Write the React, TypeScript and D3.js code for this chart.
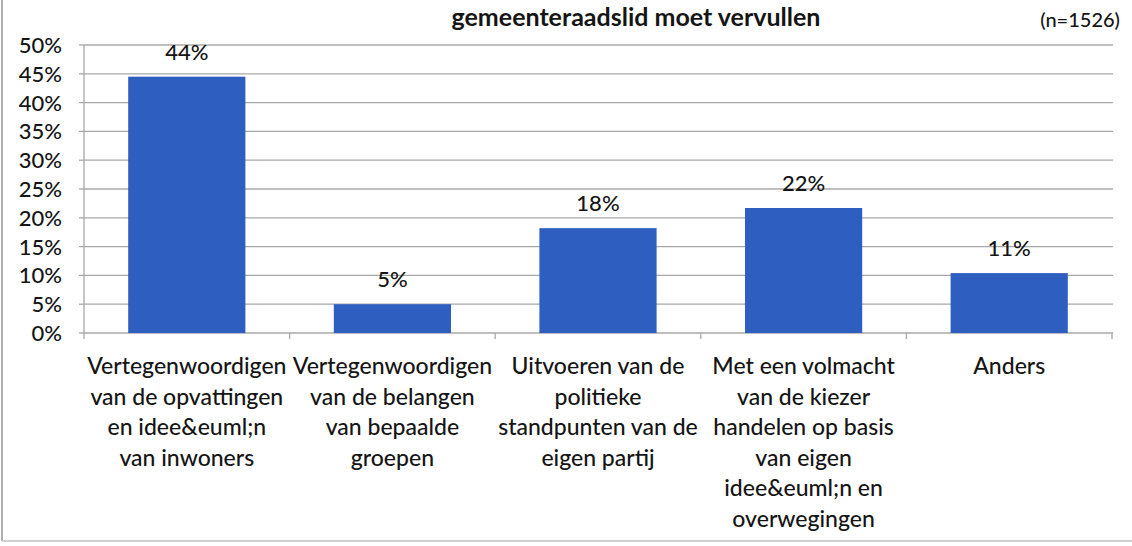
import React from "react";
import * as d3 from "d3";

const categories = [
  ["Vertegenwoordigen", "van de opvattingen", "en idee&euml;n", "van inwoners"],
  ["Vertegenwoordigen", "van de belangen", "van bepaalde", "groepen"],
  ["Uitvoeren van de", "politieke", "standpunten van de", "eigen partij"],
  ["Met een volmacht", "van de kiezer", "handelen op basis", "van eigen", "idee&euml;n en", "overwegingen"],
  ["Anders"],
];
const values = [44.5, 5.0, 18.2, 21.7, 10.4];
const valueLabels = ["44%", "5%", "18%", "22%", "11%"];
const yTicks = [0, 5, 10, 15, 20, 25, 30, 35, 40, 45, 50];

const title = "gemeenteraadslid moet vervullen";
const note = "(n=1526)";

const width = 1132;
const height = 546;
const font = "Lato, 'Open Sans', sans-serif";
const barColor = "#2e5ebf";
const gridColor = "#a8a8a8";
const textColor = "#151515";

export default function App() {
  const left = 84;
  const right = 1112;
  const top = 45;
  const bottom = 333;

  const keys = categories.map((_, i) => String(i));
  const x = d3.scaleBand<string>().domain(keys).range([left, right]).paddingInner(0.43).paddingOuter(0.215);
  const xb = d3.scaleBand<string>().domain(keys).range([left, right]);
  const y = d3.scaleLinear().domain([0, 50]).range([bottom, top]);

  return (
    <svg width={width} height={height} style={{ position: "absolute", left: 0, top: 0, background: "#fff" }} fontFamily={font}>
      {/* frame edges visible in the scan */}
      <line x1={2} x2={2} y1={0} y2={541} stroke="#b0b0b0" strokeWidth={2} />
      <line x1={2} x2={width} y1={541} y2={541} stroke="#d0d0d0" strokeWidth={2} />

      <text x={636} y={26} textAnchor="middle" fontSize={25} fontWeight={700} fill={textColor}>{title}</text>
      <text x={1120} y={27} textAnchor="end" fontSize={20} fontWeight={500} fill={textColor}>{note}</text>

      {/* gridlines + y ticks */}
      {yTicks.map((t) => (
        <g key={t}>
          {t > 0 && <line x1={left} x2={right + 1} y1={y(t)} y2={y(t)} stroke={gridColor} strokeWidth={1.3} />}
          <line x1={left - 5} x2={left} y1={y(t)} y2={y(t)} stroke={gridColor} strokeWidth={1.3} />
          <text x={62} y={y(t)} dy="0.36em" textAnchor="end" fontSize={22} fontWeight={500} fill={textColor}>{t + "%"}</text>
        </g>
      ))}
      <line x1={left} x2={left} y1={top} y2={bottom} stroke={gridColor} strokeWidth={1.3} />
      <line x1={left} x2={right + 1} y1={bottom} y2={bottom} stroke={gridColor} strokeWidth={1.3} />
      {keys.concat(["end"]).map((k, i) => {
        const px = i < keys.length ? xb(k)! : right;
        return <line key={"t" + i} x1={px} x2={px} y1={bottom} y2={bottom + 6} stroke={gridColor} strokeWidth={1.3} />;
      })}

      {/* bars */}
      {values.map((v, i) => (
        <g key={i}>
          <rect x={x(keys[i])} y={y(v)} width={x.bandwidth()} height={y(0) - y(v)} fill={barColor} />
          <text x={x(keys[i])! + x.bandwidth() / 2} y={y(v) - 17} textAnchor="middle" fontSize={22} fontWeight={500} fill={textColor}>
            {valueLabels[i]}
          </text>
        </g>
      ))}

      {/* category labels */}
      {categories.map((lines, i) => (
        <text key={i} x={xb(keys[i])! + xb.bandwidth() / 2} y={374} textAnchor="middle" fontSize={23} fontWeight={500} fill={textColor}>
          {lines.map((l, j) => (
            <tspan key={j} x={xb(keys[i])! + xb.bandwidth() / 2} dy={j === 0 ? 0 : 30.5}>{l}</tspan>
          ))}
        </text>
      ))}
    </svg>
  );
}
